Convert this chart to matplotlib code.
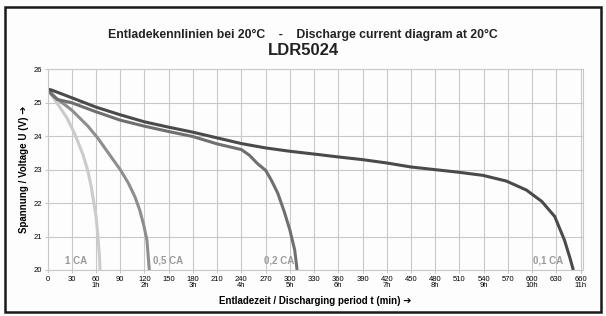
import numpy as np
import matplotlib.pyplot as plt
from matplotlib.patches import Rectangle

plt.rcParams['font.family'] = ['Liberation Sans', 'DejaVu Sans']

# discharge curves (time in min, voltage in V)
t_01 = [0, 5, 30, 60, 90, 120, 150, 180, 210, 240, 270, 300, 336, 360, 390, 420, 450, 480, 510, 539, 568, 593, 612, 628, 640, 647, 651]
u_01 = [25.41, 25.38, 25.15, 24.87, 24.64, 24.43, 24.27, 24.12, 23.95, 23.78, 23.65, 23.55, 23.45, 23.38, 23.3, 23.2, 23.08, 23.0, 22.92, 22.83, 22.66, 22.39, 22.05, 21.6, 20.9, 20.35, 20.0]

t_02 = [0, 5, 12, 30, 60, 90, 120, 150, 180, 210, 240, 250, 260, 270, 277, 285, 293, 300, 306, 309]
u_02 = [25.41, 25.25, 25.1, 25.0, 24.73, 24.48, 24.3, 24.14, 23.99, 23.77, 23.6, 23.43, 23.18, 22.98, 22.69, 22.3, 21.75, 21.2, 20.6, 20.0]

t_05 = [0, 10, 30, 50, 62, 77, 90, 100, 108, 114, 119, 123, 126]
u_05 = [25.41, 25.15, 24.78, 24.3, 23.95, 23.44, 23.0, 22.6, 22.2, 21.8, 21.35, 20.9, 20.0]

t_1 = [0, 10, 24, 34, 44, 50, 54, 57, 60, 62, 64, 65]
u_1 = [25.41, 25.05, 24.55, 24.05, 23.44, 22.95, 22.5, 22.05, 21.6, 21.1, 20.5, 20.0]

x_ticks = list(range(0, 661, 30))
hour_marks = {60: '1h', 120: '2h', 180: '3h', 240: '4h', 300: '5h', 360: '6h',
              420: '7h', 480: '8h', 540: '9h', 600: '10h', 660: '11h'}
y_ticks = [20, 21, 22, 23, 24, 25, 26]

fig = plt.figure(figsize=(6.06, 3.16), dpi=100, facecolor='#fdfdfd')
fig.patches.append(Rectangle((0.009, 0.012), 0.983, 0.965, transform=fig.transFigure,
                             fill=False, edgecolor='#1a1a1a', linewidth=1.8))

ax = fig.add_axes([0.0785, 0.1456, 0.8835, 0.635])
ax.set_facecolor('#fdfdfd')

ax.plot(t_1, u_1, color='#cbcbcb', lw=2.2, solid_capstyle='butt')
ax.plot(t_05, u_05, color='#8e8e8e', lw=2.2, solid_capstyle='butt')
ax.plot(t_02, u_02, color='#6f6f6f', lw=2.2, solid_capstyle='butt')
ax.plot(t_01, u_01, color='#4a4a4a', lw=2.2, solid_capstyle='butt')

ax.set_xlim(0, 663)
ax.set_ylim(20, 26)
ax.set_xticks(x_ticks)
ax.set_xticklabels([f'{x}\n{hour_marks[x]}' if x in hour_marks else str(x) for x in x_ticks],
                   fontsize=5.5, linespacing=0.9, va='top')
ax.set_yticks(y_ticks)
ax.set_yticklabels([str(y) for y in y_ticks], fontsize=5.5)
ax.tick_params(length=2, color='#c8c8c8', pad=2)
ax.grid(True, color='#c8c8c8', lw=0.8)
for s in ax.spines.values():
    s.set_color('#c8c8c8')
    s.set_linewidth(0.8)

lab = dict(color='#9a9a9a', fontsize=7, fontweight='bold', va='bottom')
ax.text(22, 20.12, '1 CA', **lab)
ax.text(130, 20.12, '0,5 CA', **lab)
ax.text(268, 20.12, '0,2 CA', **lab)
ax.text(601, 20.12, '0,1 CA', **lab)

ax.set_xlabel('Entladezeit / Discharging period t (min) ➔', fontsize=7, fontweight='bold', labelpad=5)
ax.set_ylabel('Spannung / Voltage U (V) ➔', fontsize=7, fontweight='bold', labelpad=3)

fig.text(0.5, 0.89, 'Entladekennlinien bei 20°C    -    Discharge current diagram at 20°C',
         ha='center', va='center', fontsize=8.8, fontweight='bold', color='#222222')
fig.text(0.5, 0.84, 'LDR5024', ha='center', va='center', fontsize=12, fontweight='bold', color='#222222')

fig.savefig('out.png', dpi=100, facecolor=fig.get_facecolor())
